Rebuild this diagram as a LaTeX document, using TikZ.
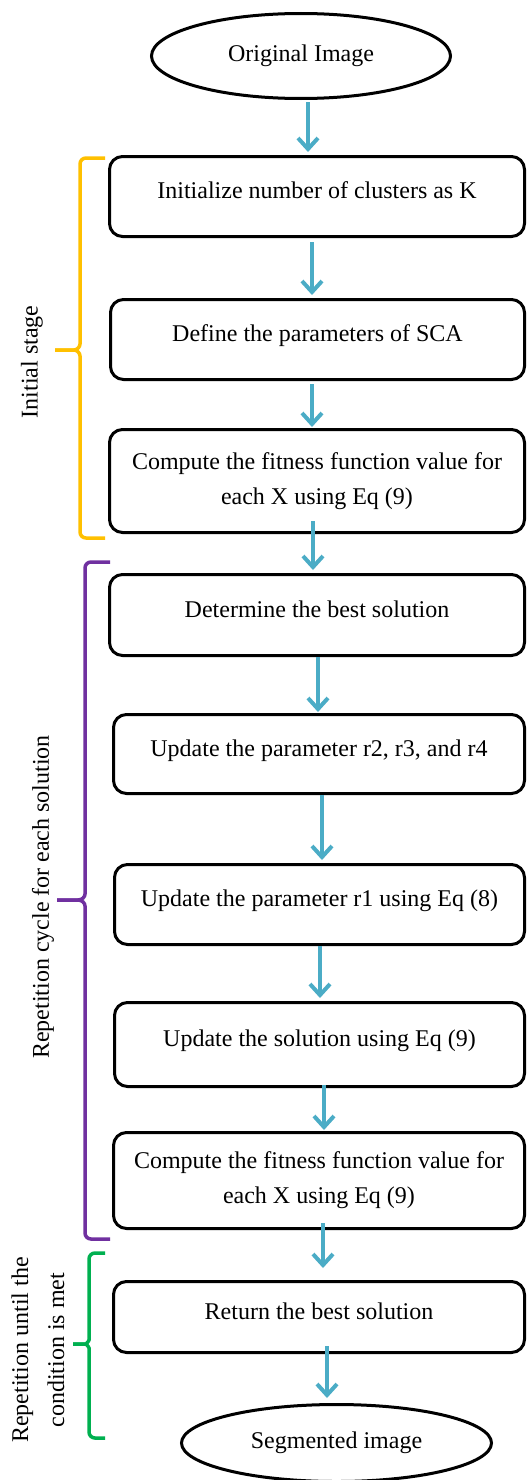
\documentclass[tikz,border=0pt]{standalone}
\usepackage{fontspec}
\setmainfont{Liberation Serif}
\usetikzlibrary{shapes.geometric,arrows.meta}
\definecolor{arrblue}{HTML}{4BACC6}
\definecolor{bryellow}{HTML}{FFC000}
\definecolor{brpurple}{HTML}{7030A0}
\definecolor{brgreen}{HTML}{00B050}
\tikzset{
  every node/.style={font=\fontsize{24}{35}\selectfont},
  stepbox/.style={draw, line width=3pt, rounded corners=13pt, inner sep=0pt},
  onel/.style={text height=17pt, text depth=13pt},
  twol/.style={align=center},
  oval/.style={draw, ellipse, line width=3pt, inner sep=0pt},
  flow/.style={draw=arrblue, line width=4pt, -{Straight Barb[length=11pt,width=20pt]}},
  brace/.style={line width=3.5pt, rounded corners=6pt},
  lab/.style={rotate=90, align=center},
}
\begin{document}
\begin{tikzpicture}[x=1pt,y=-1pt]
\useasboundingbox (0,0) rectangle (529,1480);

% terminals
\node[oval, minimum width=299pt, minimum height=85pt] (top) at (301,56) {Original Image};
\node[oval, minimum width=310pt, minimum height=77pt] (bot) at (336.5,1443) {Segmented image};

% process boxes
\node[stepbox, onel, minimum width=415pt, minimum height=80pt] (b1) at (317,196.5) {Initialize number of clusters as K};
\node[stepbox, onel, minimum width=414pt, minimum height=80pt] (b2) at (317.5,339.5) {Define the parameters of SCA};
\node[stepbox, twol, minimum width=415pt, minimum height=103pt] (b3) at (317,481) {Compute the fitness function value for\\each X using Eq (9)};
\node[stepbox, onel, minimum width=415pt, minimum height=81pt] (b4) at (317,615) {Determine the best solution};
\node[stepbox, onel, minimum width=411pt, minimum height=79pt] (b5) at (319,754) {Update the parameter r2, r3, and r4};
\node[stepbox, onel, minimum width=410pt, minimum height=80pt] (b6) at (319.5,904.5) {Update the parameter r1 using Eq (8)};
\node[stepbox, onel, minimum width=410pt, minimum height=84pt] (b7) at (319.5,1044.5) {Update the solution using Eq (9)};
\node[stepbox, twol, minimum width=411pt, minimum height=96pt] (b8) at (319,1180.5) {Compute the fitness function value for\\each X using Eq (9)};
\node[stepbox, onel, minimum width=411pt, minimum height=71pt] (b9) at (319,1317) {Return the best solution};

% arrows
\draw[flow] ([xshift=7pt,yshift=-2pt]top.south) -- ([xshift=7pt,yshift=3pt]top.south |- b1.north);
\draw[flow] ([xshift=-5pt,yshift=-4pt]b1.south) -- ([xshift=-5pt,yshift=3pt]b1.south |- b2.north);
\draw[flow] ([xshift=-5.5pt,yshift=-3pt]b2.south) -- ([xshift=-5.5pt,yshift=1pt]b2.south |- b3.north);
\draw[flow] ([xshift=-4pt,yshift=13pt]b3.south) -- ([xshift=-4pt,yshift=3pt]b3.south |- b4.north);
\draw[flow] ([xshift=1pt]b4.south) -- ([xshift=1pt,yshift=1pt]b4.south |- b5.north);
\draw[flow] ([xshift=3pt]b5.south) -- ([xshift=3pt,yshift=3pt]b5.south |- b6.north);
\draw[flow] ([xshift=0.5pt]b6.south) -- ([xshift=0.5pt,yshift=3pt]b6.south |- b7.north);
\draw[flow] ([xshift=4.5pt,yshift=3pt]b7.south) -- ([xshift=4.5pt,yshift=1pt]b7.south |- b8.north);
\draw[flow] ([xshift=4pt,yshift=7pt]b8.south) -- ([xshift=4pt,yshift=12pt]b8.south |- b9.north);
\draw[flow] ([xshift=8pt,yshift=8pt]b9.south) -- ([xshift=8pt,yshift=5pt]b9.south |- bot.north);

% braces
\draw[brace, bryellow] (105,158) -- (80,158) -- (80,338) .. controls (80,347) and (77,350) .. (68,350) -- (55,350);
\draw[brace, bryellow] (55,350) -- (68,350) .. controls (77,350) and (80,353) .. (80,362) -- (80,538) -- (105,538);
\draw[brace, brpurple] (110,562) -- (85,562) -- (85,888) .. controls (85,897) and (82,900) .. (72,900) -- (57,900);
\draw[brace, brpurple] (57,900) -- (72,900) .. controls (82,900) and (85,903) .. (85,912) -- (85,1239) -- (110,1239);
\draw[brace, brgreen] (105,1253) -- (89,1253) -- (89,1334) .. controls (89,1341) and (86,1344) .. (80,1344) -- (73,1344);
\draw[brace, brgreen] (73,1344) -- (80,1344) .. controls (86,1344) and (89,1347) .. (89,1354) -- (89,1438) -- (105,1438);

% brace labels
\node[lab] (l1) at (32,362) {Initial stage};
\node[lab] (l2) at (43,897) {Repetition cycle for each solution};
\node[lab, font=\fontsize{24}{36}\selectfont] (l3) at (38,1350) {Repetition until the\\condition is met};
\end{tikzpicture}
\end{document}
